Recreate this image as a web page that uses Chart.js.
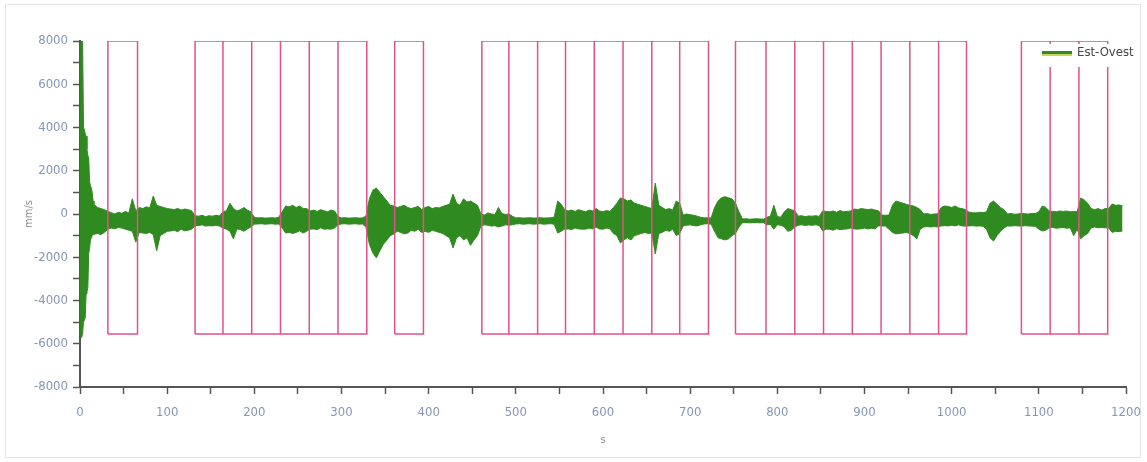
<!DOCTYPE html>
<html lang="en">
<head>
    <meta charset="utf-8" />
    <title>Est-Ovest</title>
    <style>
        html, body {
            margin: 0;
            padding: 0;
            background: #fff;
        }
        #frame {
            position: absolute;
            left: 5px;
            top: 4px;
            width: 1136px;
            height: 454px;
            border: 1px solid #e4e4e4;
            box-sizing: border-box;
        }
        #chartBox {
            position: absolute;
            left: 0;
            top: 0;
            width: 1147px;
            height: 462px;
        }
    </style>
</head>
<body>
    <div id="frame"></div>
    <div id="chartBox">
        <canvas id="seismoChart" width="1147" height="462"></canvas>
    </div>
    <script src="https://cdn.jsdelivr.net/npm/chart.js"></script>
    <script>
        // strong onset, read every 1 s (mm/s)
        var onsetTimes = [0, 1, 2, 3, 4, 5, 6, 7, 8, 9, 10, 11, 12, 13, 14, 15, 16];
        var onsetUpper = [4000, 8000, 8000, 8000, 4000, 3900, 3700, 3600, 3000, 2700,
                          2600, 1500, 1300, 1200, 1000, 600, 450];
        var onsetLower = [-4000, -5700, -5700, -5500, -5000, -4900, -4800, -3700, -3600, -3400,
                          -1800, -1600, -1200, -1100, -1000, -950, -950];

        // envelope of the rest of the trace, every 4 s from t = 20 s (mm/s)
        var traceStart = 20;
        var traceStep = 4;
        var traceUpper = [
            300, 250, 200, 120, 60, 0, 80, 30, 120, 50,
            700, 150, 300, 250, 330, 280, 830, 400, 350, 300,
            250, 230, 200, 260, 180, 230, 200, 150, -80, -100,
            -60, -120, -80, -100, -60, -90, 100, 150, 500, 250,
            140, 200, 300, 180, 100, -150, -180, -170, -190, -180,
            -170, -190, -150, 100, 370, 330, 400, 300, 370, 250,
            250, 140, 180, 120, 200, 150, 100, 180, 140, -120,
            -180, -170, -190, -180, -170, -190, -180, -100, 700, 1100,
            1200, 1000, 800, 600, 400, 370, 300, 350, 400, 300,
            250, 300, 350, 200, 300, 350, 250, 300, 280, 350,
            400, 450, 920, 500, 400, 700, 550, 600, 500, 400,
            0, -50, 50, 0, -30, 300, 20, -20, 0, -100,
            -180, -170, -190, -180, -170, -190, -180, -170, -190, -180,
            -170, -150, 600, 450, 200, 140, 180, 120, 200, 150,
            100, 180, 140, 250, 140, 100, 160, 120, 300, 500,
            740, 700, 600, 650, 500, 450, 400, 350, 300, 250,
            1430, 400, 300, 200, 250, 180, 600, 500, -50, 0,
            -30, -60, -100, -150, -180, -170, -190, 300, 600, 750,
            800, 750, 700, 500, 100, -230, -220, -240, -230, -220,
            -230, -240, -150, -100, 400, -120, -150, 100, 250, 200,
            150, -100, -80, -120, -90, -100, -80, -110, 140, 120,
            100, 140, 80, 160, 100, 120, 140, 230, 200, 250,
            230, 200, 230, 180, 150, -50, -60, -50, 400, 600,
            550, 500, 450, 400, 370, 300, 200, 0, 20, -20,
            0, 10, 300, 370, 350, 300, 370, 280, 250, 200,
            80, 60, 50, 80, 60, 100, 500, 600, 450, 300,
            200, 0, 20, -10, 0, 30, 10, 0, 30, 20,
            100, 370, 300, 140, 120, 100, 140, 120, 140, 100,
            120, 100, 740, 650, 500, 250, 200, 250, 180, 250,
            250, 460, 400, 420, 380
        ];
        var traceLower = [
            -900, -950, -850, -700, -650, -680, -620, -650, -700, -750,
            -800, -1300, -850, -880, -900, -850, -950, -1700, -1000, -900,
            -800, -785, -750, -820, -700, -780, -750, -700, -550, -530,
            -500, -560, -540, -550, -520, -560, -650, -700, -800, -1150,
            -690, -720, -800, -690, -600, -470, -460, -450, -470, -460,
            -450, -470, -460, -650, -880, -850, -900, -850, -780, -880,
            -800, -700, -690, -720, -640, -700, -690, -700, -650, -500,
            -460, -450, -470, -460, -450, -470, -460, -600, -1400, -1800,
            -2030, -1700, -1400, -1200, -1000, -920, -800, -850, -920, -880,
            -750, -800, -700, -850, -800, -850, -750, -800, -850, -900,
            -1000, -1100, -1570, -1100, -1000, -1200, -1100, -1450, -1200, -1000,
            -550, -500, -520, -560, -540, -600, -560, -500, -520, -500,
            -460, -450, -470, -460, -450, -470, -460, -450, -470, -460,
            -450, -470, -880, -800, -700, -690, -720, -650, -690, -700,
            -700, -650, -690, -600, -690, -700, -650, -690, -900, -1000,
            -1340, -1200, -1100, -1200, -1000, -950, -900, -850, -900, -880,
            -1850, -900, -850, -750, -800, -700, -1000, -900, -550, -520,
            -500, -540, -550, -500, -460, -450, -470, -800, -1100, -1150,
            -1200, -1150, -1000, -900, -600, -400, -390, -410, -400, -390,
            -410, -400, -500, -480, -700, -500, -520, -600, -800, -750,
            -600, -520, -500, -530, -510, -520, -500, -530, -780, -700,
            -700, -750, -680, -720, -700, -690, -650, -690, -700, -680,
            -650, -690, -660, -690, -550, -550, -560, -700, -850, -920,
            -900, -880, -850, -900, -1000, -1150, -700, -600, -580, -600,
            -580, -600, -550, -540, -550, -520, -550, -500, -550, -560,
            -550, -540, -560, -550, -570, -700, -1100, -1250, -1000, -800,
            -650, -550, -560, -540, -550, -560, -540, -550, -560, -570,
            -700, -785, -750, -640, -620, -660, -640, -620, -660, -640,
            -1000, -700, -1150, -1000, -900, -640, -600, -640, -620, -640,
            -640, -850, -800, -820, -780
        ];

        // analysis windows (s), one list of edges per block
        var windowEdges = [
            [32, 66],
            [132, 164, 197, 230, 263, 296, 329],
            [361, 394],
            [461, 492, 525, 557, 590, 623, 656, 688, 721],
            [752, 787, 820, 853, 886, 919, 952, 985, 1017],
            [1080, 1113, 1146, 1179]
        ];
        var windowTop = 8000;
        var windowBottom = -5550;

        var yTicks = [-8000, -6000, -4000, -2000, 0, 2000, 4000, 6000, 8000];

        var tickFont = "'Liberation Sans Narrow', 'DejaVu Sans Condensed', 'Liberation Sans', sans-serif";
        var green = '#2f8a1f';

        function toPoints(times, vals) {
            return times.map(function (t, i) { return { x: t, y: vals[i] }; });
        }
        var traceTimes = traceUpper.map(function (v, i) { return traceStart + i * traceStep; });
        var upperPoints = toPoints(onsetTimes, onsetUpper).concat(toPoints(traceTimes, traceUpper));
        var lowerPoints = toPoints(onsetTimes, onsetLower).concat(toPoints(traceTimes, traceLower));

        // outline + inner dividers of every block, gaps with null
        var windowPoints = [];
        windowEdges.forEach(function (edges) {
            var a = edges[0];
            var b = edges[edges.length - 1];
            windowPoints.push({ x: a, y: windowBottom }, { x: a, y: windowTop },
                              { x: b, y: windowTop }, { x: b, y: windowBottom },
                              { x: a, y: windowBottom }, { x: a, y: null });
            for (var k = 1; k < edges.length - 1; k++) {
                windowPoints.push({ x: edges[k], y: windowBottom }, { x: edges[k], y: windowTop },
                                  { x: edges[k], y: null });
            }
        });

        // legend in the top right corner, on a white patch
        var cornerLegend = {
            id: 'cornerLegend',
            afterDatasetsDraw: function (chart) {
                var a = chart.chartArea;
                var c = chart.ctx;
                var x0 = a.right - 84;
                var y0 = a.top + 12;
                c.save();
                c.fillStyle = '#fff';
                c.fillRect(x0 - 4, a.top + 3, 100, 23);
                c.fillStyle = '#c9d45a';
                c.fillRect(x0, y0 + 1, 30, 2);
                c.fillStyle = green;
                c.fillRect(x0, y0 - 2, 30, 3);
                c.fillStyle = '#444';
                c.font = '13px ' + tickFont;
                c.textBaseline = 'middle';
                c.fillText('Est-Ovest', x0 + 35, y0);
                c.restore();
            }
        };

        var ctx = document.getElementById('seismoChart').getContext('2d');
        var seismoChart = new Chart(ctx, {
            type: 'line',
            data: {
                datasets: [{
                    label: 'Est-Ovest',
                    data: upperPoints,
                    borderColor: green,
                    borderWidth: 1,
                    pointRadius: 0,
                    tension: 0,
                    fill: false,
                    order: 2
                }, {
                    label: 'Est-Ovest low',
                    data: lowerPoints,
                    borderColor: green,
                    backgroundColor: green,
                    borderWidth: 1,
                    pointRadius: 0,
                    tension: 0,
                    fill: '-1',
                    order: 2
                }, {
                    label: 'windows',
                    data: windowPoints,
                    borderColor: '#e4508a',
                    borderWidth: 1.5,
                    pointRadius: 0,
                    spanGaps: false,
                    tension: 0,
                    fill: false,
                    order: 1
                }]
            },
            options: {
                responsive: false,
                animation: false,
                layout: {
                    padding: { left: 0, right: 21, top: 41, bottom: 0 }
                },
                plugins: {
                    tooltip: { enabled: false },
                    legend: { display: false }
                },
                scales: {
                    x: {
                        type: 'linear',
                        min: 0,
                        max: 1200,
                        afterFit: function (scale) {
                            scale.height = 75;
                            scale.paddingLeft = 0;
                            scale.paddingRight = 0;
                        },
                        border: { color: '#555', width: 2 },
                        grid: { drawOnChartArea: false, tickLength: 7, color: '#555', tickWidth: 1.5 },
                        ticks: {
                            stepSize: 50,
                            autoSkip: false,
                            maxRotation: 0,
                            padding: 11,
                            color: '#8596b8',
                            font: { family: tickFont, size: 13 },
                            callback: function (v) { return v % 100 === 0 ? String(v) : ''; }
                        },
                        title: {
                            display: true,
                            text: 's',
                            color: '#8a8a8a',
                            font: { family: tickFont, size: 11 },
                            padding: { bottom: 15 }
                        }
                    },
                    y: {
                        type: 'linear',
                        min: yTicks[0],
                        max: yTicks[yTicks.length - 1],
                        afterFit: function (scale) {
                            scale.width = 80;
                            scale.paddingTop = 0;
                            scale.paddingBottom = 0;
                        },
                        border: { color: '#555', width: 2 },
                        grid: { drawOnChartArea: false, tickLength: 7, color: '#555', tickWidth: 1.5 },
                        ticks: {
                            stepSize: 1000,
                            autoSkip: false,
                            padding: 5,
                            color: '#8596b8',
                            font: { family: tickFont, size: 13 },
                            callback: function (v) { return yTicks.indexOf(v) >= 0 ? String(v) : ''; }
                        },
                        title: {
                            display: true,
                            text: 'mm/s',
                            color: '#8a8a8a',
                            font: { family: tickFont, size: 11 },
                            padding: { top: 23 }
                        }
                    }
                }
            },
            plugins: [cornerLegend]
        });
    </script>
</body>
</html>
